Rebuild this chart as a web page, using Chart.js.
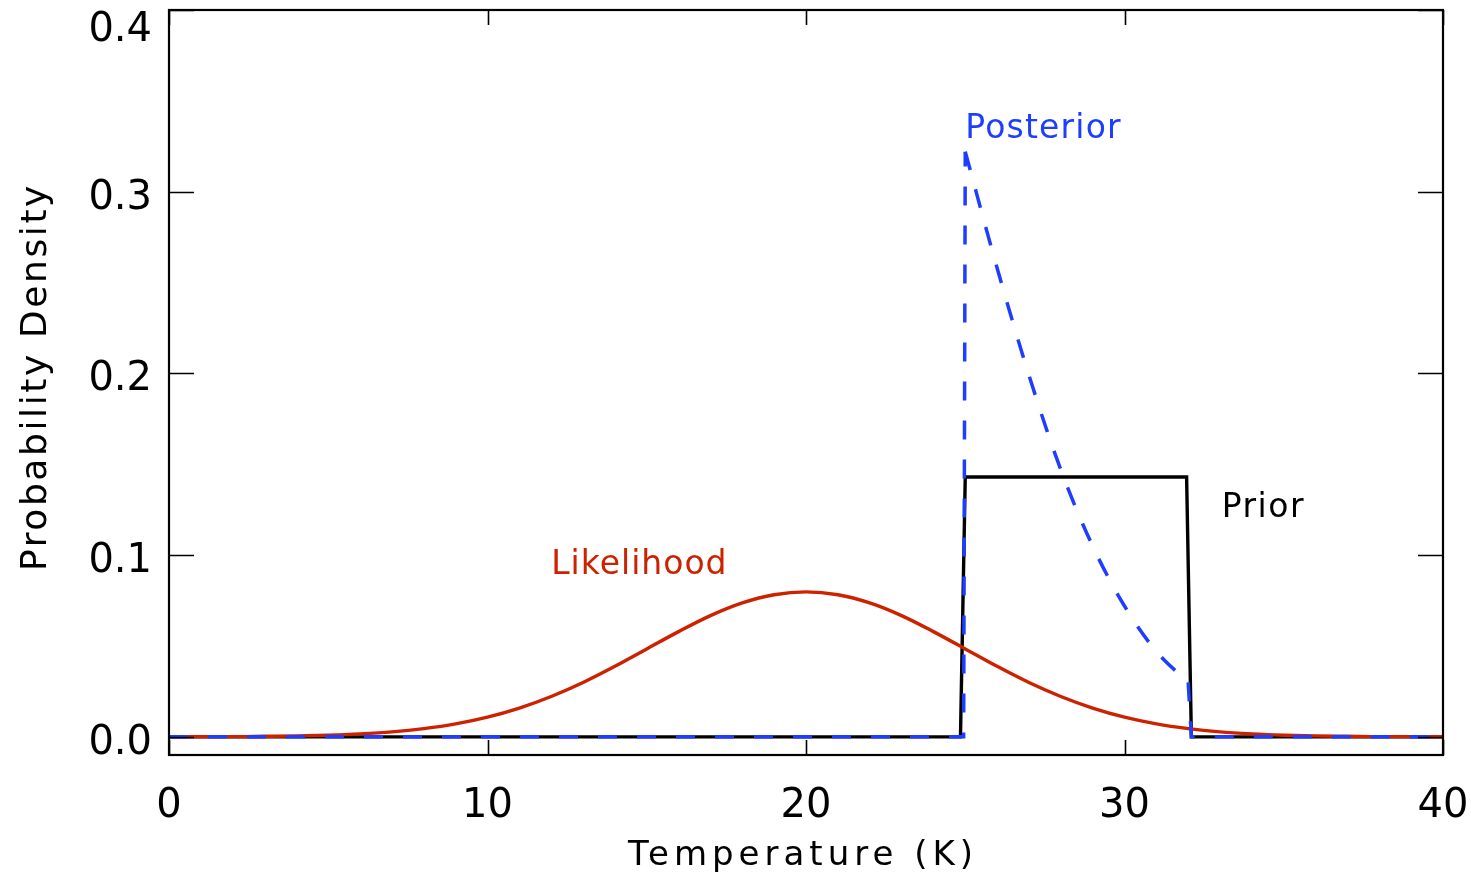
<!DOCTYPE html>
<html>
<head>
<meta charset="utf-8">
<script src="https://cdn.jsdelivr.net/npm/chart.js@4.4.1/dist/chart.umd.min.js"></script>
<style>
  html, body { margin: 0; padding: 0; background: #ffffff; }
  #chart { display: block; }
</style>
</head>
<body>
<canvas id="chart" width="1471" height="885"></canvas>
<script>
// likelihood at whole kelvins
const likelihoodT = [0, 1, 2, 3, 4, 5, 6, 7, 8, 9, 10, 11, 12, 13, 14, 15, 16, 17, 18, 19, 20,
  21, 22, 23, 24, 25, 26, 27, 28, 29, 30, 31, 32, 33, 34, 35, 36, 37, 38, 39, 40];
const likelihoodP = [0.0000, 0.0001, 0.0001, 0.0003, 0.0005, 0.0009, 0.0016, 0.0027, 0.0045, 0.0071, 0.0108,
  0.0158, 0.0222, 0.0299, 0.0388, 0.0484, 0.0579, 0.0667, 0.0737, 0.0782, 0.0798,
  0.0782, 0.0737, 0.0667, 0.0579, 0.0484, 0.0388, 0.0299, 0.0222, 0.0158, 0.0108,
  0.0071, 0.0045, 0.0027, 0.0016, 0.0009, 0.0005, 0.0003, 0.0001, 0.0001, 0.0000];

// prior: flat box between 25 and 32 K
const priorT = [0, 24.85, 25.0, 31.95, 32.1, 40];
const priorP = [0, 0, 0.143, 0.143, 0, 0];

// posterior: curved part inside the prior box, plus its two flat wings
const posteriorT = [25, 26, 27, 28, 29, 30, 31, 32];
const posteriorP = [0.322, 0.258, 0.199, 0.147, 0.105, 0.072, 0.047, 0.030];
const posteriorLeftT = [0, 24.95, 25.0];
const posteriorLeftP = [0, 0, 0.322];
const posteriorRightT = [32.0, 32.1, 40];
const posteriorRightP = [0.030, 0, 0];

const xTicks = [0, 10, 20, 30, 40];
const yTicks = [0.0, 0.1, 0.2, 0.3, 0.4];
const yTickLabels = ['0.0', '0.1', '0.2', '0.3', '0.4'];

const RED = '#cc2200';
const BLUE = '#1f3dff';
const FONT = '"DejaVu Sans", sans-serif';

const toPoints = (xs, ys) => xs.map((x, i) => ({ x, y: ys[i] }));

// curve labels, anchored in data units (left edge, baseline)
const curveLabels = [
  { text: 'Posterior', x: 25.0, y: 0.3295, color: BLUE, spacing: 1.2 },
  { text: 'Prior', x: 33.05, y: 0.121, color: '#000000', spacing: 1.5 },
  { text: 'Likelihood', x: 12.0, y: 0.0897, color: RED, spacing: 1 },
];

const framePlugin = {
  id: 'idlFrame',
  afterDraw(chart) {
    const { ctx, chartArea: area, scales } = chart;
    const xs = scales.x;
    const ys = scales.y;
    ctx.save();

    // box
    ctx.strokeStyle = '#000000';
    ctx.lineWidth = 2.2;
    ctx.strokeRect(area.left, area.top, area.right - area.left, area.bottom - area.top);

    // inward ticks on all four sides
    ctx.lineWidth = 1.6;
    ctx.beginPath();
    xTicks.forEach((v) => {
      const px = Math.round(xs.getPixelForValue(v)) + 0.5;
      ctx.moveTo(px, area.bottom);
      ctx.lineTo(px, area.bottom - 15);
      ctx.moveTo(px, area.top);
      ctx.lineTo(px, area.top + 15);
    });
    yTicks.forEach((v) => {
      const py = Math.round(ys.getPixelForValue(v)) + 0.5;
      ctx.moveTo(area.left, py);
      ctx.lineTo(area.left + 25, py);
      ctx.moveTo(area.right, py);
      ctx.lineTo(area.right - 25, py);
    });
    ctx.stroke();

    // tick labels
    ctx.fillStyle = '#000000';
    ctx.font = `40px ${FONT}`;
    ctx.textBaseline = 'alphabetic';
    ctx.textAlign = 'center';
    xTicks.forEach((v) => {
      ctx.fillText(String(v), xs.getPixelForValue(v), area.bottom + 62);
    });
    ctx.textAlign = 'right';
    yTicks.forEach((v, i) => {
      const py = Math.max(ys.getPixelForValue(v) + 2, area.top + 16);
      ctx.fillText(yTickLabels[i], area.left - 17, py + 15);
    });

    // axis titles
    ctx.textAlign = 'center';
    ctx.font = `34px ${FONT}`;
    ctx.letterSpacing = '5px';
    ctx.fillText('Temperature (K)', 803, 865);
    ctx.save();
    ctx.font = `36px ${FONT}`;
    ctx.letterSpacing = '2.6px';
    ctx.translate(46, 377);
    ctx.rotate(-Math.PI / 2);
    ctx.fillText('Probability Density', 0, 0);
    ctx.restore();

    // curve labels
    ctx.font = `33px ${FONT}`;
    ctx.textAlign = 'left';
    curveLabels.forEach((lab) => {
      ctx.fillStyle = lab.color;
      ctx.letterSpacing = `${lab.spacing}px`;
      ctx.fillText(lab.text, xs.getPixelForValue(lab.x), ys.getPixelForValue(lab.y));
    });
    ctx.restore();
  },
};

const lineBase = { pointRadius: 0, fill: false, tension: 0 };

new Chart(document.getElementById('chart').getContext('2d'), {
  type: 'line',
  data: {
    datasets: [
      { ...lineBase, label: 'Posterior', data: toPoints(posteriorT, posteriorP), borderColor: BLUE,
        borderWidth: 3.5, borderDash: [19, 20], cubicInterpolationMode: 'monotone', order: 0 },
      { ...lineBase, label: 'Posterior (left)', data: toPoints(posteriorLeftT, posteriorLeftP), borderColor: BLUE,
        borderWidth: 3.5, borderDash: [19, 20], order: 0 },
      { ...lineBase, label: 'Posterior (right)', data: toPoints(posteriorRightT, posteriorRightP), borderColor: BLUE,
        borderWidth: 3.5, borderDash: [19, 20], order: 0 },
      { ...lineBase, label: 'Likelihood', data: toPoints(likelihoodT, likelihoodP), borderColor: RED,
        borderWidth: 3.4, cubicInterpolationMode: 'monotone', order: 1 },
      { ...lineBase, label: 'Prior', data: toPoints(priorT, priorP), borderColor: '#000000',
        borderWidth: 3.4, order: 2 },
    ],
  },
  options: {
    responsive: false,
    animation: false,
    layout: { padding: { left: 169, top: 10, right: 28, bottom: 130 } },
    scales: {
      x: { type: 'linear', min: 0, max: 40, display: false },
      y: { type: 'linear', min: -0.01, max: 0.4, display: false },
    },
    plugins: {
      legend: { display: false },
      tooltip: { enabled: false },
    },
  },
  plugins: [framePlugin],
});
</script>
</body>
</html>
